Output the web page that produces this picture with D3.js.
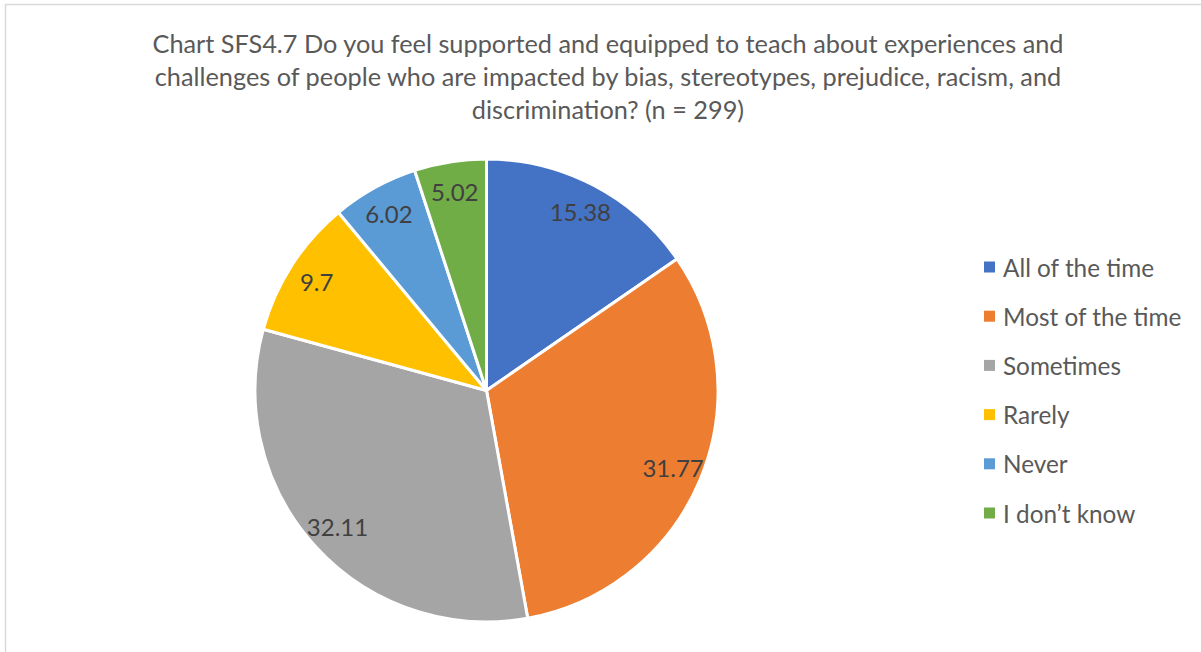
<!DOCTYPE html>
<html>
<head>
<meta charset="utf-8">
<script src="https://cdn.jsdelivr.net/npm/d3@7"></script>
<style>
  html, body { margin: 0; padding: 0; background: #fff; }
  svg { display: block; }
</style>
</head>
<body>
<svg id="chart" width="1201" height="652"></svg>
<script>
// Survey responses, percent of respondents (n = 299)
const categories = ["All of the time", "Most of the time", "Sometimes", "Rarely", "Never", "I don\u2019t know"];
const values = [15.38, 31.77, 32.11, 9.7, 6.02, 5.02];
const colors = ["#4472C4", "#ED7D31", "#A5A5A5", "#FFC000", "#5B9BD5", "#70AD47"];
const titleLines = [
  "Chart SFS4.7 Do you feel supported and equipped to teach about experiences and",
  "challenges of people who are impacted by bias, stereotypes, prejudice, racism, and",
  "discrimination? (n = 299)"
];

const svg = d3.select("#chart");
const font = "'Source Sans Pro', 'Lato', 'Noto Sans', sans-serif";

// chart frame
svg.append("rect")
  .attr("x", 5.5).attr("y", 4.5)
  .attr("width", 1300).attr("height", 800)
  .attr("fill", "#fff")
  .attr("stroke", "#d9d9d9").attr("stroke-width", 1.5);

// title
svg.append("g").selectAll("text")
  .data(titleLines)
  .join("text")
  .attr("x", 608)
  .attr("y", (d, i) => 53 + i * 33)
  .attr("text-anchor", "middle")
  .attr("font-family", font)
  .attr("font-size", 25.3)
  .attr("fill", "#595959")
  .text(d => d);

// pie
const cx = 486.5, cy = 390.5, R = 231.5;
const color = d3.scaleOrdinal().domain(categories).range(colors);
const pie = d3.pie().sort(null).value(d => d.value);
const data = categories.map((c, i) => ({ cat: c, value: values[i] }));
const arcs = pie(data);
const arc = d3.arc().innerRadius(0).outerRadius(R);
const labelArc = d3.arc().innerRadius(202).outerRadius(202);

const g = svg.append("g").attr("transform", `translate(${cx},${cy})`);
g.selectAll("path")
  .data(arcs)
  .join("path")
  .attr("d", arc)
  .attr("fill", d => color(d.data.cat))
  .attr("stroke", "#fff")
  .attr("stroke-width", 3)
  .attr("stroke-linejoin", "round");

g.selectAll("text.lbl")
  .data(arcs)
  .join("text")
  .attr("class", "lbl")
  .attr("transform", d => `translate(${labelArc.centroid(d)})`)
  .attr("text-anchor", "middle")
  .attr("dominant-baseline", "central")
  .attr("font-family", font)
  .attr("font-size", 24)
  .attr("fill", "#404040")
  .text(d => d.data.value);

// legend
const legend = svg.append("g");
const rowY = d3.scalePoint().domain(categories).range([267, 513]);
const items = legend.selectAll("g")
  .data(categories)
  .join("g")
  .attr("transform", d => `translate(984,${rowY(d)})`);
items.append("rect")
  .attr("x", 0).attr("y", -5.5)
  .attr("width", 11).attr("height", 11)
  .attr("fill", d => color(d));
items.append("text")
  .attr("x", 19).attr("y", 0)
  .attr("dominant-baseline", "central")
  .attr("font-family", font)
  .attr("font-size", 24.3)
  .attr("fill", "#595959")
  .text(d => d);
</script>
</body>
</html>
